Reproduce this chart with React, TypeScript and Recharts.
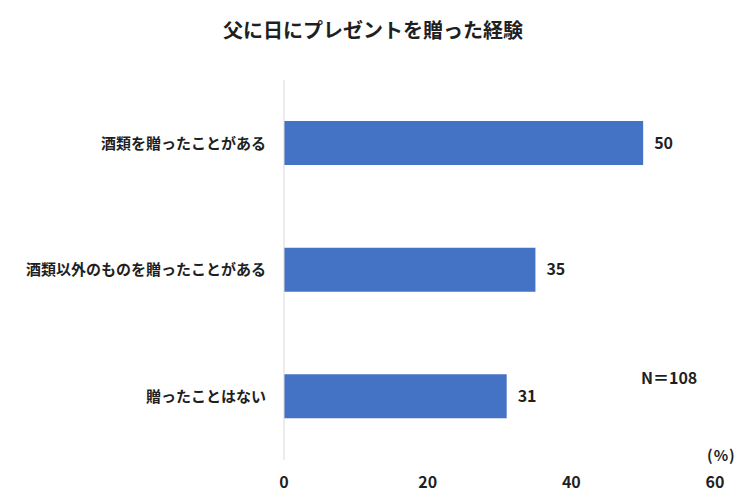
import { Bar, BarChart, LabelList, XAxis, YAxis } from 'recharts';

const CATEGORIES = ['酒類を贈ったことがある', '酒類以外のものを贈ったことがある', '贈ったことはない'];
const VALUES = [50, 35, 31];
const X_TICKS = [0, 20, 40, 60];

const FONT = '"Noto Sans CJK JP", "Noto Sans", sans-serif';
const BAR_COLOR = '#4472C4';
const TEXT_COLOR = '#1f1f1f';

const data = CATEGORIES.map((name, i) => ({ name, value: VALUES[i] }));

export default function App() {
  return (
    <div
      style={{
        position: 'absolute',
        left: 0,
        top: 0,
        width: 750,
        height: 500,
        background: '#fff',
        fontFamily: FONT,
      }}
    >
      <div
        style={{
          position: 'absolute',
          left: 0,
          width: 746,
          top: 16,
          textAlign: 'center',
          fontSize: 20,
          fontWeight: 700,
          color: TEXT_COLOR,
          lineHeight: '28px',
        }}
      >
        父に日にプレゼントを贈った経験
      </div>
      <BarChart
        width={750}
        height={500}
        data={data}
        layout="vertical"
        margin={{ top: 80, right: 35, bottom: 0, left: 0 }}
      >
        <XAxis
          type="number"
          domain={[0, 60]}
          ticks={X_TICKS}
          axisLine={false}
          tickLine={false}
          tickMargin={11}
          height={40}
          tick={{ fontSize: 16, fontWeight: 700, fill: TEXT_COLOR, fontFamily: FONT }}
        />
        <YAxis
          type="category"
          dataKey="name"
          width={284}
          axisLine={{ stroke: '#d9d9d9' }}
          tickLine={false}
          tickSize={0}
          tickMargin={18}
          tick={{ fontSize: 15, fontWeight: 700, fill: TEXT_COLOR, fontFamily: FONT }}
        />
        <Bar dataKey="value" fill={BAR_COLOR} barSize={44} isAnimationActive={false}>
          <LabelList
            dataKey="value"
            position="right"
            offset={11}
            style={{ fontSize: 16, fontWeight: 700, fill: TEXT_COLOR, fontFamily: FONT }}
          />
        </Bar>
      </BarChart>
      <div
        style={{
          position: 'absolute',
          left: 641,
          top: 365,
          fontSize: 16,
          fontWeight: 700,
          color: TEXT_COLOR,
          lineHeight: '24px',
        }}
      >
        N＝108
      </div>
      <div
        style={{
          position: 'absolute',
          left: 707,
          top: 443,
          fontSize: 15,
          fontWeight: 700,
          color: TEXT_COLOR,
          lineHeight: '24px',
          letterSpacing: 1,
        }}
      >
        (%)
      </div>
    </div>
  );
}
